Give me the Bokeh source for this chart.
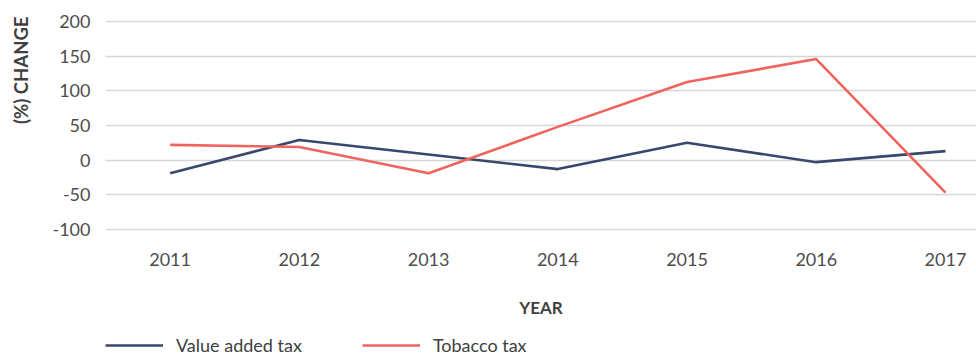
from bokeh.plotting import figure
from bokeh.layouts import column
from bokeh.models import Range1d, Legend, LegendItem, Title, FixedTicker, ColumnDataSource
from bokeh.embed import file_html
from bokeh.resources import INLINE

years = [2011, 2012, 2013, 2014, 2015, 2016, 2017]
vat = [-19, 29, 8, -13, 25, -3, 13]
tobacco = [22, 19, -19, 48, 113, 146, -47]
y_ticks = [-100, -50, 0, 50, 100, 150, 200]
y_tick_labels = ["-100", "-50", "0", "50", "100", "150", "200"]
series_names = ["Value added tax", "Tobacco tax"]
colors = ["#37476e", "#ef645d"]

FONT = "Lato"
TXT = "#404040"

p = figure(width=976, height=330, output_backend="svg", toolbar_location=None,
           x_range=Range1d(2010.5, 2017.24), y_range=Range1d(-109, 209),
           min_border_left=105, min_border_right=0, min_border_top=15, min_border_bottom=95)
p.outline_line_color = None
p.background_fill_color = "white"
p.border_fill_color = "white"

src = ColumnDataSource(dict(year=years, vat=vat, tobacco=tobacco))
p.line("year", "vat", source=src, line_color=colors[0], line_width=2.6)
p.line("year", "tobacco", source=src, line_color=colors[1], line_width=2.6)

p.xgrid.grid_line_color = None
p.ygrid.grid_line_color = "#d6d6d6"
p.ygrid.grid_line_width = 1.6

p.yaxis.ticker = FixedTicker(ticks=y_ticks)
p.yaxis.major_label_overrides = {t: s for t, s in zip(y_ticks, y_tick_labels)}
p.xaxis.ticker = FixedTicker(ticks=years)
for ax in (p.xaxis[0], p.yaxis[0]):
    ax.axis_line_color = None
    ax.major_tick_line_color = None
    ax.minor_tick_line_color = None
    ax.major_label_text_font = FONT
    ax.major_label_text_font_size = "18px"
    ax.major_label_text_color = "#4d4d4d"
p.yaxis.major_label_standoff = 9
p.xaxis.major_label_standoff = 11

p.xaxis.axis_label = "YEAR"
p.xaxis.axis_label_text_font = FONT
p.xaxis.axis_label_text_font_style = "bold"
p.xaxis.axis_label_text_font_size = "17px"
p.xaxis.axis_label_text_color = TXT
p.xaxis.axis_label_standoff = 28

spacer = Title(text=" ", text_font=FONT, text_font_size="1px")
p.add_layout(spacer, "left")
ytitle = Title(text="(%) CHANGE", align="right", offset=1, text_font=FONT,
               text_font_style="bold", text_font_size="18.5px", text_color=TXT)
p.add_layout(ytitle, "left")

# legend strip (legend lines use the same series, drawn outside this strip's view)
lg = figure(width=976, height=26, output_backend="svg", toolbar_location=None,
            x_range=Range1d(0, 1), y_range=Range1d(0, 1),
            min_border_left=100, min_border_right=0, min_border_top=0, min_border_bottom=0)
lg.outline_line_color = None
lg.axis.visible = False
lg.grid.visible = False
items = []
for name, c, key in zip(series_names, colors, ["vat", "tobacco"]):
    r = lg.line("year", key, source=src, line_color=c, line_width=2.6)
    items.append(LegendItem(label=name, renderers=[r]))
legend = Legend(items=items, orientation="horizontal", location=(0, 0),
                border_line_alpha=0, background_fill_alpha=0,
                glyph_width=58, glyph_height=16, label_standoff=13, spacing=60,
                padding=0, margin=0,
                label_text_font=FONT, label_text_font_size="18px", label_text_color=TXT)
lg.add_layout(legend, "center")

layout = column(p, lg, spacing=0)
open("out.html", "w").write(file_html(layout, INLINE))
